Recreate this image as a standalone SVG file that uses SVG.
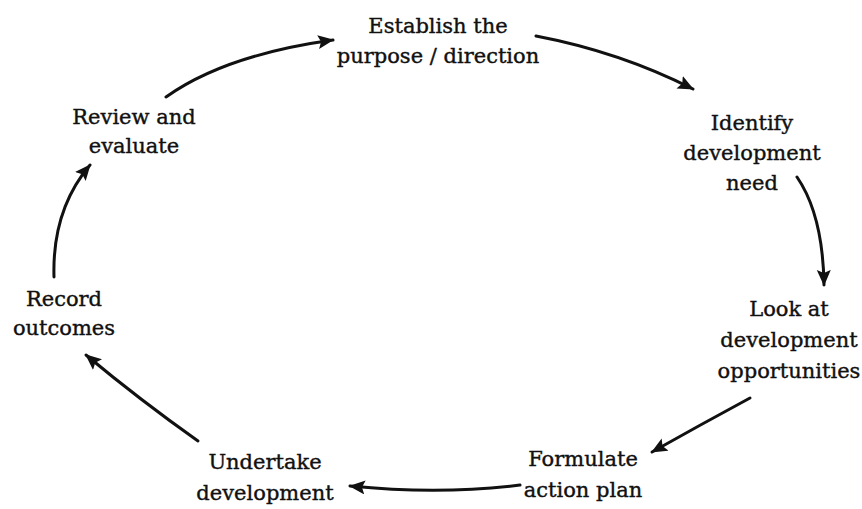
<svg xmlns="http://www.w3.org/2000/svg" width="862" height="509" viewBox="0 0 862 509">
<style>
text{font-family:"DejaVu Serif","Liberation Serif",serif;font-size:21px;fill:#111;stroke:#111;stroke-width:0.4;text-anchor:middle}
.c{fill:none;stroke:#111;stroke-width:3;stroke-linecap:round}
</style>
<defs>
<marker id="ah" markerUnits="userSpaceOnUse" markerWidth="18" markerHeight="16" refX="15" refY="7" orient="auto">
<path d="M0,0 L16,7 L0,14 L3,7 Z" fill="#111"/>
</marker>
</defs>
<rect width="862" height="509" fill="#fff"/>
<g id="connectors">
<path class="c" d="M166,97 Q225,55 333,40" marker-end="url(#ah)"/>
<path class="c" d="M536,36 Q620,52 693,89" marker-end="url(#ah)"/>
<path class="c" d="M797,177 Q823,215 824,285" marker-end="url(#ah)"/>
<path class="c" d="M750,398 Q700,425 652,452" marker-end="url(#ah)"/>
<path class="c" d="M520,485 Q440,495 350,486" marker-end="url(#ah)"/>
<path class="c" d="M198,441 Q140,400 86,355" marker-end="url(#ah)"/>
<path class="c" d="M54,277 Q52,210 90,165" marker-end="url(#ah)"/>
</g>
<g id="establish"><text x="438" y="33">Establish the</text><text x="438" y="63">purpose / direction</text></g>
<g id="identify"><text x="752" y="130">Identify</text><text x="752" y="160">development</text><text x="752" y="190">need</text></g>
<g id="lookat"><text x="789" y="316">Look at</text><text x="789" y="347">development</text><text x="789" y="378">opportunities</text></g>
<g id="formulate"><text x="583" y="466">Formulate</text><text x="583" y="497">action plan</text></g>
<g id="undertake"><text x="265" y="469">Undertake</text><text x="265" y="500">development</text></g>
<g id="record"><text x="64" y="306">Record</text><text x="64" y="335">outcomes</text></g>
<g id="review"><text x="134" y="124">Review and</text><text x="134" y="153">evaluate</text></g>
</svg>
